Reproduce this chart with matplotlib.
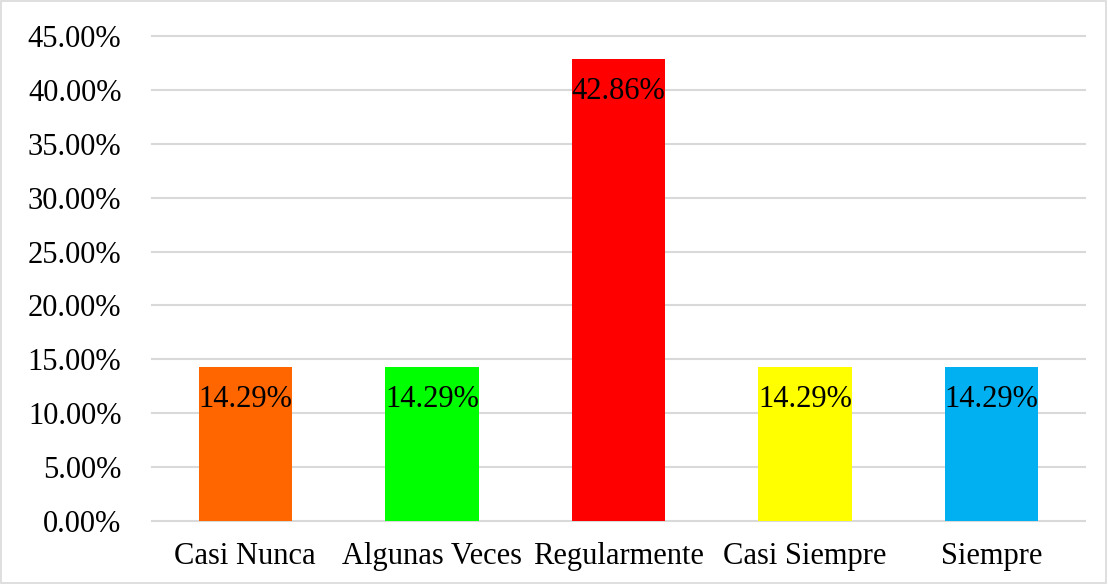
import matplotlib
matplotlib.use("Agg")
import matplotlib.pyplot as plt
from matplotlib.patches import Rectangle

categories = ["Casi Nunca", "Algunas Veces", "Regularmente", "Casi Siempre", "Siempre"]
values = [14.29, 14.29, 42.86, 14.29, 14.29]
colors = ["#FF6600", "#00FF00", "#FF0000", "#FFFF00", "#00B0F0"]
yticks = [0, 5, 10, 15, 20, 25, 30, 35, 40, 45]

plt.rcParams['font.family'] = ['Liberation Serif', 'DejaVu Serif']

fig = plt.figure(figsize=(11.08, 5.84), dpi=100)
ax = fig.add_axes([152/1108, 1 - 521/584, (1085-152)/1108, (521-36)/584])

x = list(range(len(categories)))
bars = ax.bar(x, values, width=0.5, color=colors, zorder=3)
ax.set_xlim(-0.5, len(categories) - 0.5)
ax.set_ylim(0, 45)
ax.set_yticks(yticks)
ax.set_yticklabels([f"{v:.2f}%" for v in yticks], fontsize=22)
ax.set_xticks(x)
ax.set_xticklabels(categories, fontsize=22)
ax.tick_params(axis='both', length=0, colors='black')
ax.tick_params(axis='y', pad=22)
ax.tick_params(axis='x', pad=15)
ax.grid(axis='y', color='#d9d9d9', linewidth=1.5, zorder=0)
for gl in ax.get_ygridlines():
    gl.set_clip_on(False)
for s in ax.spines.values():
    s.set_visible(False)

for xi, v in zip(x, values):
    ax.annotate(f"{v:.2f}%", xy=(xi, v), xytext=(0, -13), textcoords='offset points',
                ha='center', va='top', fontsize=22, color='black', zorder=4)

fig.patches.append(Rectangle((0.001, 0.001), 0.997, 0.997, transform=fig.transFigure,
                             fill=False, edgecolor='#d9d9d9', linewidth=1.2))

fig.savefig("out.png", dpi=100)
